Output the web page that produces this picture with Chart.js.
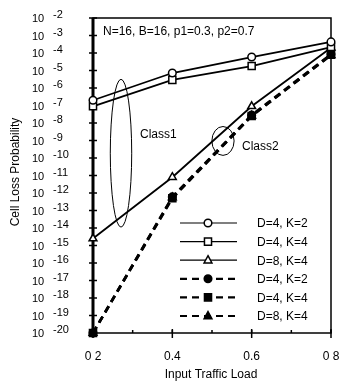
<!DOCTYPE html>
<html>
<head>
<meta charset="utf-8">
<script src="https://cdn.jsdelivr.net/npm/chart.js@4.4.1/dist/chart.umd.min.js"></script>
<style>
  html, body { margin: 0; padding: 0; background: #fff; }
  #wrap { width: 340px; height: 386px; }
</style>
</head>
<body>
<div id="wrap"><canvas id="c" width="340" height="386"></canvas></div>
<script>
// x values (input traffic load) and their printed labels
const loads = [0.2, 0.4, 0.6, 0.8];
const xTickValues = [0.2, 0.4, 0.6, 0.8];
const xTickLabels = ['0 2', '0.4', '0.6', '0 8'];
// decade exponents on the y axis
const yExponents = [-2, -3, -4, -5, -6, -7, -8, -9, -10, -11, -12, -13, -14, -15, -16, -17, -18, -19, -20];

// Class 1 (solid, open markers)
const c1_D4K2 = [2.0e-7, 7.2e-6, 5.9e-5, 4.3e-4];
const c1_D4K4 = [9.0e-8, 2.9e-6, 1.8e-5, 2.2e-4];
const c1_D8K4 = [2.5e-15, 8.0e-12, 9.0e-8, 2.0e-4];
// Class 2 (dashed, filled markers)
const c2_D4K2 = [1e-20, 6.0e-13, 2.8e-8, 8.5e-5];
const c2_D4K4 = [1e-20, 5.0e-13, 2.5e-8, 8.0e-5];
const c2_D8K4 = [1e-20, 5.5e-13, 2.6e-8, 7.5e-5];

const legendLabels = ['D=4, K=2', 'D=4, K=4', 'D=8, K=4', 'D=4, K=2', 'D=4, K=4', 'D=8, K=4'];
const FONT = '"Liberation Sans", Arial, sans-serif';

function series(label, values, style, filled, dashed) {
    const r = style === 'rect' ? 5 : (style === 'triangle' ? 4.5 : 3.8);
    return {
        label,
        data: values.map((v, i) => ({ x: loads[i], y: v })),
        borderColor: '#000',
        backgroundColor: filled ? '#000' : '#fff',
        pointBackgroundColor: filled ? '#000' : '#fff',
        pointBorderColor: '#000',
        pointBorderWidth: 1.5,
        pointStyle: style,
        pointRadius: r,
        borderWidth: dashed ? 2.6 : 1.8,
        borderDash: dashed ? [7, 5] : [],
        tension: 0,
        clip: false
    };
}

function drawMarker(ctx, style, x, y, r, filled) {
    ctx.save();
    ctx.setLineDash([]);
    ctx.lineWidth = 1.5;
    ctx.strokeStyle = '#000';
    ctx.fillStyle = filled ? '#000' : '#fff';
    ctx.beginPath();
    if (style === 'circle') {
        ctx.arc(x, y, r, 0, Math.PI * 2);
    } else if (style === 'rect') {
        const s = r * Math.SQRT1_2;
        ctx.rect(x - s, y - s, 2 * s, 2 * s);
    } else {
        const h = r * 1.5;
        ctx.moveTo(x, y - r);
        ctx.lineTo(x + h * 0.58, y + r * 0.6);
        ctx.lineTo(x - h * 0.58, y + r * 0.6);
        ctx.closePath();
    }
    ctx.fill();
    ctx.stroke();
    ctx.restore();
}

function ellipseByData(ctx, xs, ys, xc, halfW, yTop, yBot) {
    const cx = xs.getPixelForValue(xc);
    const rx = Math.abs(xs.getPixelForValue(xc + halfW) - cx);
    const t = ys.getPixelForValue(yTop), b = ys.getPixelForValue(yBot);
    ctx.beginPath();
    ctx.ellipse(cx, (t + b) / 2, rx, Math.abs(b - t) / 2, 0, 0, Math.PI * 2);
    ctx.stroke();
}

const frame = {
    id: 'frame',
    beforeDatasetsDraw(chart) {
        const { ctx, chartArea: a } = chart;
        const xs = chart.scales.x, ys = chart.scales.y;
        ctx.save();
        ctx.strokeStyle = '#000';
        ctx.fillStyle = '#000';
        // box
        ctx.lineWidth = 1.5;
        ctx.strokeRect(a.left, a.top, a.right - a.left, a.bottom - a.top);
        ctx.lineWidth = 3;
        ctx.beginPath(); ctx.moveTo(a.left, a.top); ctx.lineTo(a.left, a.bottom + 1); ctx.stroke();
        // y ticks and labels
        ctx.lineWidth = 1.5;
        ctx.font = '11px ' + FONT;
        ctx.textBaseline = 'middle';
        yExponents.forEach(e => {
            const py = ys.getPixelForValue(Math.pow(10, e));
            ctx.beginPath(); ctx.moveTo(a.left - 4, py); ctx.lineTo(a.left + 4, py); ctx.stroke();
            ctx.textAlign = 'left';
            ctx.fillText('10', 32, py + 1);
            ctx.fillText(String(e), 53, py - 3);
        });
        // x ticks
        for (let v = 0.3; v < 0.8; v += 0.1) {
            const px = xs.getPixelForValue(v);
            ctx.beginPath(); ctx.moveTo(px, a.bottom); ctx.lineTo(px, a.bottom - 3); ctx.stroke();
        }
        ctx.font = '12px ' + FONT;
        ctx.textAlign = 'center';
        xTickValues.forEach((v, i) => {
            const px = xs.getPixelForValue(v);
            ctx.beginPath(); ctx.moveTo(px, a.bottom - 4); ctx.lineTo(px, a.bottom + 5); ctx.stroke();
            ctx.fillText(xTickLabels[i], px, a.bottom + 24);
        });
        // axis titles
        ctx.fillText('Input Traffic Load', 211, 375);
        ctx.save();
        ctx.translate(16, 172);
        ctx.rotate(-Math.PI / 2);
        ctx.fillText('Cell Loss Probability', 0, 0);
        ctx.restore();
        // header and class annotations
        ctx.textAlign = 'left';
        ctx.fillText('N=16, B=16, p1=0.3, p2=0.7', 103, a.top + 14);
        ctx.fillText('Class1', 140, 135);
        ctx.fillText('Class2', 242, 147);
        ctx.lineWidth = 1;
        ellipseByData(ctx, xs, ys, 0.2706, 0.027, 10 ** -5.5, 10 ** -13.95);
        ellipseByData(ctx, xs, ys, 0.5277, 0.028, 10 ** -8.2, 10 ** -9.85);
        ctx.restore();
    },
    afterDatasetsDraw(chart) {
        const { ctx } = chart;
        ctx.save();
        ctx.font = '12px ' + FONT;
        ctx.textAlign = 'left';
        ctx.textBaseline = 'middle';
        ctx.fillStyle = '#fff';
        ctx.fillRect(176, 212, 150, 114);
        chart.data.datasets.forEach((ds, i) => {
            const y = 223 + i * 18.6;
            ctx.strokeStyle = '#000';
            ctx.lineWidth = ds.borderDash.length ? 2.2 : 1.2;
            ctx.setLineDash(ds.borderDash.length ? [7, 5] : []);
            ctx.beginPath(); ctx.moveTo(180, y); ctx.lineTo(237, y); ctx.stroke();
            drawMarker(ctx, ds.pointStyle, 208, y, ds.pointRadius, ds.pointBackgroundColor === '#000');
            ctx.fillStyle = '#000';
            ctx.fillText(legendLabels[i], 257, y + 1);
        });
        ctx.restore();
    }
};

new Chart(document.getElementById('c'), {
    type: 'line',
    data: {
        datasets: [
            series('Class1 D=4, K=2', c1_D4K2, 'circle', false, false),
            series('Class1 D=4, K=4', c1_D4K4, 'rect', false, false),
            series('Class2 D=8, K=4', c1_D8K4, 'triangle', false, false),
            series('Class2 D=4, K=2', c2_D4K2, 'circle', true, true),
            series('Class2 D=4, K=4', c2_D4K4, 'rect', true, true),
            series('Class2 D=8, K=4', c2_D8K4, 'triangle', true, true)
        ]
    },
    options: {
        responsive: false,
        animation: false,
        layout: { padding: { left: 93, right: 9, top: 18, bottom: 53 } },
        plugins: { legend: { display: false }, tooltip: { enabled: false } },
        scales: {
            x: { type: 'linear', min: 0.2, max: 0.8, display: false },
            y: { type: 'logarithmic', min: 1e-20, max: 1e-2, display: false }
        }
    },
    plugins: [frame]
});
</script>
</body>
</html>
